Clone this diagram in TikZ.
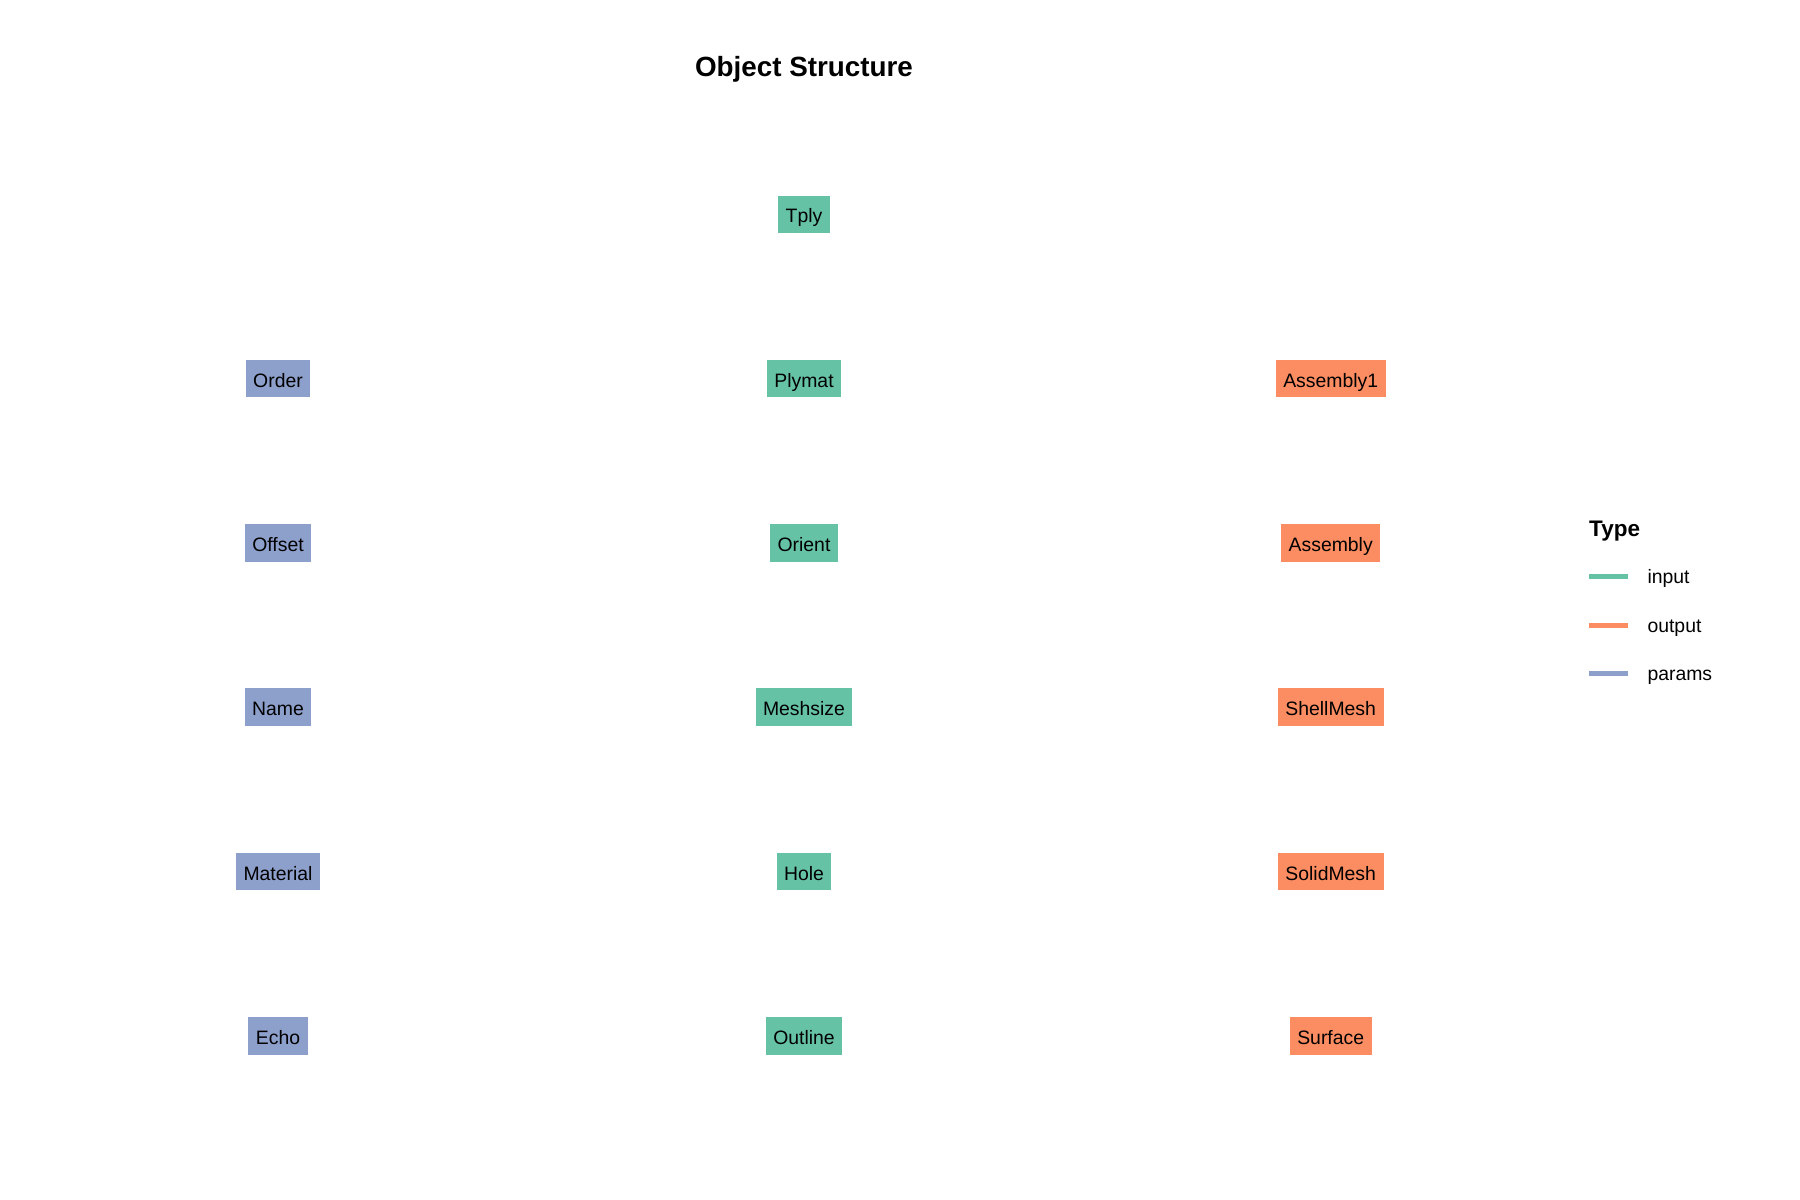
\documentclass[tikz,border=0pt]{standalone}
\usepackage{fontspec}
\setmainfont{Liberation Sans}
\definecolor{cin}{HTML}{66C2A5}
\definecolor{cout}{HTML}{FC8D62}
\definecolor{cpar}{HTML}{8DA0CB}
\begin{document}
\begin{tikzpicture}[x=1pt,y=-1pt,
  box/.style={inner xsep=7.5pt, inner ysep=0pt, minimum height=37.5pt, text height=20pt, text depth=3pt, font=\fontsize{19.4}{22}\selectfont},
  inbox/.style={box, fill=cin},
  outbox/.style={box, fill=cout},
  parbox/.style={box, fill=cpar},
  leg/.style={line width=5pt},
  legtext/.style={anchor=base west, inner sep=0pt, font=\fontsize{19.4}{22}\selectfont}]
\useasboundingbox (0,0) rectangle (1800,1200);
\fill[white] (0,0) rectangle (1800,1200);
\node[anchor=base, inner sep=0pt, font=\bfseries\fontsize{27.8}{32}\selectfont] (title) at (804,76.7) {Object Structure};
% input column
\node[inbox] (tply) at (804,214.3) {Tply};
\node[inbox] (plymat) at (804,378.6) {Plymat};
\node[inbox] (orient) at (804,542.9) {Orient};
\node[inbox] (meshsize) at (804,707.2) {Meshsize};
\node[inbox] (hole) at (804,871.5) {Hole};
\node[inbox] (outline) at (804,1035.8) {Outline};
% params column
\node[parbox] (order) at (278,378.6) {Order};
\node[parbox] (offset) at (278,542.9) {Offset};
\node[parbox] (name) at (278,707.2) {Name};
\node[parbox] (material) at (278,871.5) {Material};
\node[parbox] (echo) at (278,1035.8) {Echo};
% output column
\node[outbox] (assembly1) at (1330.7,378.6) {Assembly1};
\node[outbox] (assembly) at (1330.7,542.9) {Assembly};
\node[outbox] (shellmesh) at (1330.7,707.2) {ShellMesh};
\node[outbox] (solidmesh) at (1330.7,871.5) {SolidMesh};
\node[outbox] (surface) at (1330.7,1035.8) {Surface};
% legend
\node[anchor=base west, inner sep=0pt, font=\bfseries\fontsize{22.5}{26}\selectfont] (legtitle) at (1589,536.7) {Type};
\coordinate (l1a) at (1589,576); \coordinate (l1b) at (1627.5,576);
\coordinate (l2a) at (1589,625); \coordinate (l2b) at (1627.5,625);
\coordinate (l3a) at (1589,673.5); \coordinate (l3b) at (1627.5,673.5);
\draw[leg, cin] (l1a) -- (l1b);
\draw[leg, cout] (l2a) -- (l2b);
\draw[leg, cpar] (l3a) -- (l3b);
\node[legtext] (legin) at (1647.3,583.3) {input};
\node[legtext] (legout) at (1647.3,632.3) {output};
\node[legtext] (legpar) at (1647.3,680.8) {params};
\end{tikzpicture}
\end{document}
